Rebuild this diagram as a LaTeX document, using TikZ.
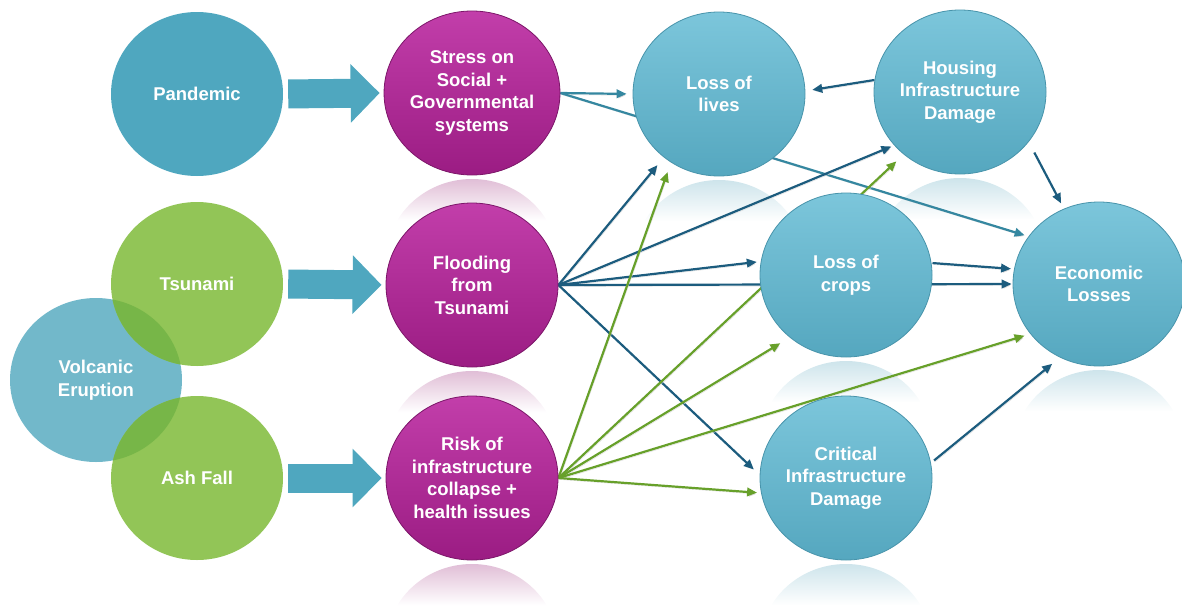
\documentclass[tikz,border=0pt]{standalone}
\usepackage{fontspec}
\setmainfont{Liberation Sans}
\usetikzlibrary{arrows.meta,shapes.geometric,calc,backgrounds}
\definecolor{tealfill}{HTML}{4FA7BF}
\definecolor{volcfill}{HTML}{72B8CA}
\definecolor{grnfill}{HTML}{92C557}
\definecolor{grnover}{HTML}{77B648}
\definecolor{magtop}{HTML}{C23EAA}
\definecolor{magbot}{HTML}{9B1C83}
\definecolor{magrim}{HTML}{7C1669}
\definecolor{skytop}{HTML}{7CC6DB}
\definecolor{skybot}{HTML}{55A7BF}
\definecolor{skyrim}{HTML}{4894AB}
\definecolor{lnblue}{HTML}{1C5C7E}
\definecolor{lngreen}{HTML}{67A02A}
\definecolor{lnteal}{HTML}{3587A0}
\definecolor{refpink}{HTML}{E0BDD6}
\definecolor{refblue}{HTML}{CDE4EB}
\tikzset{
	bub/.style={ellipse,minimum width=172pt,minimum height=164pt,inner sep=0pt,align=center,text=white,font=\bfseries\fontsize{18.5}{22.5}\selectfont},
	flatbub/.style={bub,fill=#1},
	mag/.style={bub,top color=magtop,bottom color=magbot,draw=magrim,line width=0.8pt},
	sky/.style={bub,top color=skytop,bottom color=skybot,draw=skyrim,line width=0.8pt},
	blk/.style={line width=29pt,draw=tealfill,-{Triangle[length=29pt,width=57pt]},shorten <=5pt,shorten >=4pt},
	ln/.style={line width=2.2pt,draw=#1,-{Triangle[length=10pt,width=8.5pt]},
		preaction={draw=black!14,transform canvas={shift={(1pt,-1.5pt)}}}}
}
\newcommand\mirror[2]{%
	\begin{scope}
		\clip ($(#1.center)+(0,168)$) ellipse (86 and 82);
		\shade[top color=#2,bottom color=white] ($(#1.south)+(-90,3)$) rectangle ($(#1.south)+(90,45)$);
	\end{scope}}

\begin{document}
\begin{tikzpicture}[x=1pt,y=-1pt]
			\useasboundingbox (0,0) rectangle (1182,605);
			\node[flatbub=tealfill] (pand) at (197,94) {Pandemic};
			\node[flatbub=volcfill] (volc) at (96,380) {};
			\node[flatbub=grnfill] (tsu) at (197,284) {Tsunami};
			\node[flatbub=grnfill] (ash) at (197,478) {Ash Fall};
			\begin{scope}
				\clip (volc.center) ellipse (86 and 82);
				\fill[grnover] (tsu.center) ellipse (86 and 82);
				\fill[grnover] (ash.center) ellipse (86 and 82);
			\end{scope}
			\node[bub] at (volc.center) {Volcanic\\Eruption};
			\node[mag] (stress) at (472,93) {Stress on\\Social +\\Governmental\\systems};
			\node[mag] (flood) at (472,285) {Flooding\\from\\Tsunami};
			\node[mag] (risk) at (472,478) {Risk of\\infrastructure\\collapse +\\health issues};
			\node[sky] (lives) at (719,94) {Loss of\\lives};
			\node[sky] (house) at (960,92) {Housing\\Infrastructure\\Damage};
			\node[sky] (crops) at (846,275) {Loss of\\crops};
			\node[sky] (econ) at (1099,284) {Economic\\Losses};
			\node[sky] (crit) at (846,478) {Critical\\Infrastructure\\Damage};
			\draw[blk] (pand.east) -- (stress.west);
			\draw[blk] (tsu.east) -- (flood.west);
			\draw[blk] (ash.east) -- (risk.west);
			\begin{scope}[on background layer]
				\mirror{stress}{refpink}
				\mirror{flood}{refpink}
				\mirror{risk}{refpink}
				\mirror{lives}{refblue}
				\mirror{house}{refblue}
				\mirror{crops}{refblue}
				\mirror{econ}{refblue}
				\mirror{crit}{refblue}
				\draw[ln=lnteal,shorten >=6pt] (stress.east) -- (lives.west);
				\draw[ln=lnteal,shorten >=4pt] (stress.east) -- (econ.146);
				\draw[ln=lnblue,shorten >=7pt] (house.172) -- (lives.2);
				\draw[ln=lnblue,shorten <=12pt,shorten >=6pt] (house.324) -- (econ.115);
				\draw[ln=lnblue,shorten >=10pt] (flood.east) -- (lives.229);
				\draw[ln=lnblue,shorten >=3pt] (flood.east) -- (house.219);
				\draw[ln=lnblue,shorten >=4pt] (flood.east) -- (crops.171);
				\draw[ln=lnblue,shorten >=1pt] (flood.east) -- (econ.west);
				\draw[ln=lnblue,shorten >=8pt] (flood.east) -- (crit.178);
				\draw[ln=lnblue,shorten <=1pt,shorten >=3pt] (crops.8) -- (econ.170);
				\draw[ln=lnblue,shorten <=4pt,shorten >=10pt] (crit.10) -- (econ.242);
				\draw[ln=lngreen,shorten >=10pt] (risk.east) -- (lives.235);
				\draw[ln=lngreen,shorten >=10pt] (risk.east) -- (house.228);
				\draw[ln=lngreen,shorten >=11pt] (risk.east) -- (crops.228);
				\draw[ln=lngreen,shorten >=6pt] (risk.east) -- (econ.216);
				\draw[ln=lngreen,shorten >=4pt] (risk.east) -- (crit.190);
			\end{scope}
		\end{tikzpicture}
\end{document}
